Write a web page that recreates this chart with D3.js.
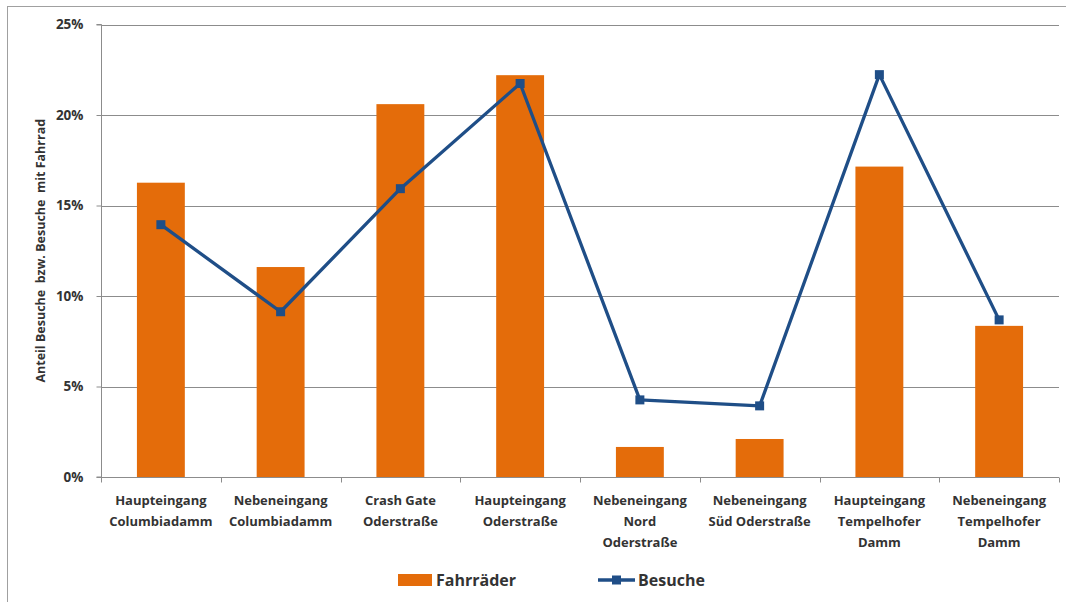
<!DOCTYPE html>
<html><head><meta charset="utf-8">
<script src="https://cdn.jsdelivr.net/npm/d3@7"></script>
<style>body{margin:0;background:#fff}svg{display:block}text{font-family:"Open Sans",Lato,sans-serif;font-weight:bold;fill:#333}</style>
</head><body><svg id="c" width="1066" height="602"></svg>
<script>
const categories = [
  ["Haupteingang","Columbiadamm"],
  ["Nebeneingang","Columbiadamm"],
  ["Crash Gate","Oderstraße"],
  ["Haupteingang","Oderstraße"],
  ["Nebeneingang","Nord","Oderstraße"],
  ["Nebeneingang","Süd Oderstraße"],
  ["Haupteingang","Tempelhofer","Damm"],
  ["Nebeneingang","Tempelhofer","Damm"]
];
const fahrraeder = [16.26, 11.6, 20.6, 22.2, 1.66, 2.1, 17.15, 8.35];
const besuche = [13.94, 9.13, 15.93, 21.74, 4.26, 3.93, 22.23, 8.68];
const yTicks = [0, 5, 10, 15, 20, 25];
const seriesNames = ["Fahrräder", "Besuche"];
const yTitle = "Anteil Besuche  bzw. Besuche  mit Fahrrad";

const svg = d3.select("#c");
const L = 101, R = 1059, T = 24.5, B = 477;
const orange = "#e46c0a", blue = "#1f4e87", grid = "#8c8c8c";

// outer frame
svg.append("rect").attr("x",7.5).attr("y",6.5).attr("width",1070).attr("height",610)
  .attr("fill","none").attr("stroke","#a0a0a0").attr("stroke-width",1);

const x = d3.scaleBand().domain(d3.range(categories.length)).range([L,R]).paddingInner(0.6).paddingOuter(0.3);
const xb = d3.scaleBand().domain(d3.range(categories.length)).range([L,R]);
const y = d3.scaleLinear().domain([0,25]).range([B,T]);

// gridlines
svg.append("g").selectAll("line").data(yTicks.filter(d=>d>0)).join("line")
  .attr("x1",L).attr("x2",R).attr("y1",d=>Math.round(y(d))+0.5).attr("y2",d=>Math.round(y(d))+0.5)
  .attr("stroke",grid).attr("stroke-width",1);

// y axis
const ya = svg.append("g").attr("transform",`translate(${L+0.5},0)`)
  .call(d3.axisLeft(y).tickValues(yTicks).tickFormat(d=>d+"%").tickSize(5).tickPadding(13));
ya.select(".domain").attr("stroke",grid).attr("d",`M-5,${T}H0V${B}H-5`);
ya.selectAll(".tick line").attr("stroke",grid);
ya.selectAll("text").style("font-size","13.5px").attr("fill","#333");

// bars
svg.append("g").selectAll("rect").data(fahrraeder).join("rect")
  .attr("x",(d,i)=>x(i)).attr("width",x.bandwidth())
  .attr("y",d=>y(d)).attr("height",d=>B-y(d)).attr("fill",orange);

// x axis
const xa = svg.append("g").attr("transform",`translate(0,${B+0.5})`);
xa.append("line").attr("x1",L).attr("x2",R).attr("stroke",grid);
xa.selectAll(".tk").data(d3.range(categories.length+1)).join("line")
  .attr("x1",i=>Math.round(L+i*xb.bandwidth())+0.5).attr("x2",i=>Math.round(L+i*xb.bandwidth())+0.5)
  .attr("y1",0).attr("y2",5).attr("stroke",grid);
const lbl = svg.append("g").selectAll("text").data(categories).join("text")
  .attr("text-anchor","middle").style("font-size","13px")
  .attr("transform",(d,i)=>`translate(${xb(i)+xb.bandwidth()/2},${B+28})`);
lbl.selectAll("tspan").data(d=>d).join("tspan").attr("x",0).attr("dy",(d,i)=>i?21:0).text(d=>d);

// line
const lineGen = d3.line().x((d,i)=>xb(i)+xb.bandwidth()/2).y(d=>y(d));
svg.append("path").datum(besuche).attr("d",lineGen).attr("fill","none")
  .attr("stroke",blue).attr("stroke-width",3.3).attr("stroke-linejoin","round");
svg.append("g").selectAll("rect").data(besuche).join("rect")
  .attr("x",(d,i)=>xb(i)+xb.bandwidth()/2-4.5).attr("y",d=>y(d)-4.5)
  .attr("width",9).attr("height",9).attr("fill",blue);

// y title
svg.append("text").attr("transform",`translate(45,${(T+B)/2}) rotate(-90)`)
  .attr("text-anchor","middle").style("font-size","12.5px").style("white-space","pre").text(yTitle);

// legend
const lg = svg.append("g");
lg.append("rect").attr("x",398).attr("y",574).attr("width",34).attr("height",12).attr("fill",orange);
lg.append("text").attr("x",436).attr("y",586).style("font-size","16px").text(seriesNames[0]);
lg.append("line").attr("x1",598).attr("x2",635).attr("y1",580).attr("y2",580).attr("stroke",blue).attr("stroke-width",3.3);
lg.append("rect").attr("x",612).attr("y",575.5).attr("width",9).attr("height",9).attr("fill",blue);
lg.append("text").attr("x",638).attr("y",586).style("font-size","16px").text(seriesNames[1]);
</script></body></html>
